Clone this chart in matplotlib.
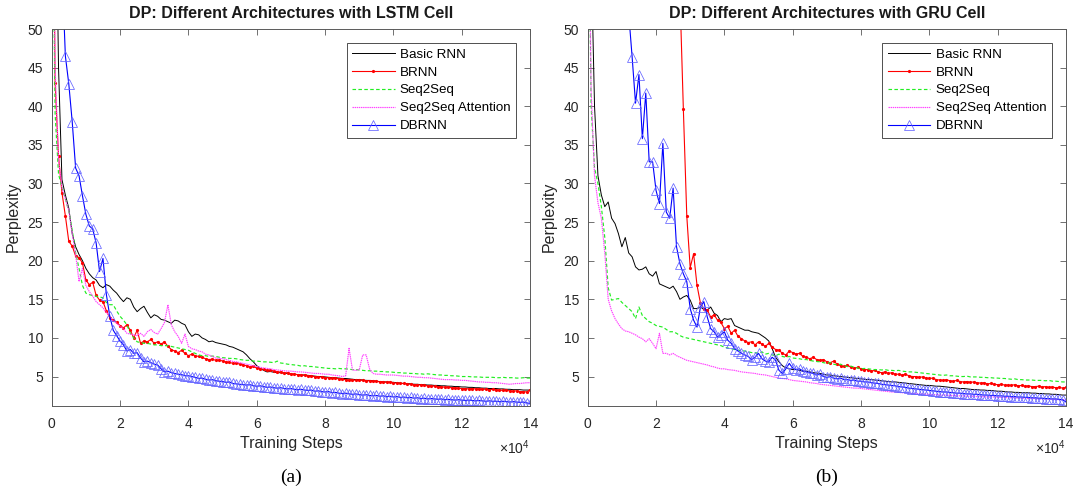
import numpy as np
import matplotlib
matplotlib.use("Agg")
import matplotlib.pyplot as plt

# training steps (x10^4 shown on axis)
steps = np.arange(0, 141) * 1000

# ---------------- (a) LSTM cell ----------------
lstm_basic = [120.0,
              75.0, 45.0, 30.5, 28.5, 26.8, 23.5, 21.8, 20.8, 20.0, 19.0,
              18.3, 17.8, 17.5, 16.8, 16.5, 16.9, 16.7, 16.2, 15.8, 15.2,
              14.7, 15.2, 15.0, 14.0, 13.4, 13.8, 14.1, 13.3, 12.6, 13.0,
              12.8, 12.4, 12.3, 12.1, 11.9, 12.3, 12.2, 11.9, 11.7, 10.8,
              10.2, 10.5, 10.4, 10.0, 9.8, 9.5, 9.6, 9.4, 9.3, 9.2,
              9.1, 8.9, 8.8, 8.6, 8.4, 8.2, 7.8, 7.3, 6.9, 6.4,
              6.05, 5.8, 5.6, 5.65, 5.55, 5.5, 5.5, 5.45, 5.4, 5.3,
              5.3, 5.25, 5.2, 5.2, 5.15, 5.1, 5.05, 5.0, 5.0, 4.95,
              4.9, 4.85, 4.85, 4.8, 4.75, 4.75, 4.7, 4.65, 4.6, 4.6,
              4.55, 4.5, 4.5, 4.45, 4.4, 4.35, 4.3, 4.3, 4.25, 4.25,
              4.2, 4.15, 4.1, 4.1, 4.05, 4.0, 4.0, 3.95, 3.95, 3.9,
              3.9, 3.85, 3.85, 3.8, 3.8, 3.75, 3.75, 3.7, 3.7, 3.65,
              3.65, 3.6, 3.6, 3.55, 3.55, 3.5, 3.5, 3.45, 3.45, 3.45,
              3.4, 3.4, 3.35, 3.35, 3.3, 3.3, 3.3, 3.25, 3.25, 3.25]

lstm_brnn = [90.0,
             43.0, 33.5, 28.8, 25.8, 22.5, 21.9, 20.6, 20.4, 19.7, 17.5,
             16.9, 17.2, 15.5, 14.9, 14.7, 13.5, 12.6, 12.3, 12.0, 11.6,
             11.3, 11.7, 11.0, 10.0, 11.0, 9.3, 9.6, 9.5, 9.8, 9.3,
             9.5, 9.2, 9.5, 8.9, 8.5, 8.3, 8.1, 8.4, 8.0, 7.7,
             7.9, 7.7, 7.6, 7.5, 7.3, 7.2, 7.25, 7.1, 7.15, 7.0,
             6.9, 6.85, 6.7, 6.75, 6.6, 6.5, 6.4, 6.25, 6.3, 6.1,
             6.0, 5.95, 5.8, 5.85, 5.7, 5.6, 5.6, 5.45, 5.5, 5.35,
             5.3, 5.25, 5.15, 5.2, 5.1, 5.05, 5.0, 4.95, 4.95, 4.85,
             4.85, 4.75, 4.8, 4.7, 4.65, 4.6, 4.55, 4.6, 4.5, 4.55,
             4.5, 4.45, 4.45, 4.4, 4.4, 4.3, 4.35, 4.25, 4.3, 4.2,
             4.15, 4.1, 4.1, 4.05, 4.0, 3.95, 3.95, 3.9, 3.85, 3.8,
             3.8, 3.75, 3.7, 3.7, 3.6, 3.6, 3.55, 3.55, 3.5, 3.45,
             3.45, 3.4, 3.45, 3.4, 3.4, 3.35, 3.35, 3.3, 3.35, 3.3,
             3.25, 3.2, 3.2, 3.15, 3.1, 3.15, 3.05, 3.05, 3.0, 3.3]

lstm_s2s = [80.0,
            39.0, 31.2, 29.5, 28.0, 26.4, 24.0, 21.0, 19.0, 16.8, 15.8,
            15.6, 15.5, 15.4, 15.3, 15.2, 14.6, 14.3, 14.3, 13.5, 12.8,
            12.3, 11.7, 10.6, 10.0, 9.5, 9.4, 9.3, 9.3, 9.2, 9.1,
            9.1, 9.0, 9.0, 9.0, 8.9, 8.8, 8.7, 8.6, 8.5, 8.4,
            8.2, 8.0, 7.8, 7.7, 7.7, 7.6, 7.65, 7.6, 7.5, 7.45,
            7.4, 7.35, 7.35, 7.3, 7.2, 7.15, 7.1, 7.1, 7.0, 7.0,
            6.95, 6.9, 6.9, 6.85, 6.8, 7.0, 6.75, 6.7, 6.6, 6.55,
            6.5, 6.45, 6.35, 6.4, 6.3, 6.3, 6.25, 6.2, 6.15, 6.1,
            6.05, 6.05, 6.0, 6.05, 6.0, 6.0, 5.95, 5.9, 5.9, 5.85,
            5.8, 5.75, 5.75, 5.7, 5.7, 5.65, 5.65, 5.6, 5.6, 5.55,
            5.5, 5.5, 5.45, 5.45, 5.4, 5.4, 5.35, 5.35, 5.3, 5.35,
            5.3, 5.25, 5.2, 5.2, 5.15, 5.15, 5.1, 5.1, 5.05, 5.0,
            5.0, 5.0, 4.95, 4.95, 4.95, 4.9, 4.9, 4.9, 4.9, 4.85,
            4.85, 4.9, 4.85, 4.85, 4.85, 4.8, 4.8, 4.85, 4.8, 4.8]

lstm_att = [90.0,
            45.0, 33.0, 29.5, 28.0, 26.5, 23.5, 20.8, 17.3, 19.0, 16.8,
            16.0, 15.4, 14.7, 14.3, 13.9, 13.3, 12.8, 12.2, 11.9, 11.5,
            11.2, 10.6, 10.5, 10.4, 10.3, 10.6, 10.2, 10.8, 11.1, 10.7,
            10.5, 11.2, 12.0, 14.3, 11.7, 10.8, 10.2, 9.3, 10.5, 8.9,
            8.6, 8.5, 8.3, 8.2, 7.9, 7.8, 7.6, 7.4, 7.35, 7.3,
            7.2, 7.1, 6.95, 6.9, 6.8, 6.7, 6.6, 6.5, 6.4, 6.3,
            6.2, 6.1, 6.05, 6.0, 5.9, 5.85, 5.8, 5.75, 5.7, 5.7,
            5.65, 5.6, 5.6, 5.55, 5.5, 5.45, 5.4, 5.4, 5.35, 5.3,
            5.3, 5.2, 5.15, 5.1, 5.0, 5.1, 8.65, 5.85, 5.8, 5.9,
            7.8, 7.8, 6.0, 5.4, 5.3, 5.3, 5.25, 5.2, 5.2, 5.2,
            5.15, 5.1, 5.05, 5.05, 5.0, 4.95, 4.9, 4.9, 4.85, 4.85,
            4.8, 4.75, 4.7, 4.65, 4.6, 4.6, 4.6, 4.55, 4.55, 4.5,
            4.5, 4.45, 4.4, 4.35, 4.3, 4.3, 4.25, 4.25, 4.2, 4.2,
            4.15, 4.1, 4.05, 4.0, 4.05, 4.1, 4.1, 4.15, 4.2, 4.2]

lstm_dbrnn = [200.0,
              150.0, 90.0, 58.0, 46.5, 42.9, 38.0, 32.0, 31.0, 28.4, 26.0,
              24.5, 24.1, 22.3, 18.6, 20.3, 15.6, 12.8, 11.0, 10.3, 9.6,
              9.1, 8.3, 8.5, 8.0, 8.1, 7.4, 6.9, 7.0, 6.8, 6.6,
              6.5, 6.0, 5.6, 5.7, 5.5, 5.4, 5.3, 5.25, 5.1, 5.1,
              5.0, 4.9, 4.75, 4.8, 4.65, 4.55, 4.6, 4.45, 4.4, 4.35,
              4.25, 4.3, 4.1, 4.05, 4.0, 3.95, 3.9, 3.95, 3.8, 3.75,
              3.8, 3.7, 3.6, 3.65, 3.55, 3.5, 3.55, 3.45, 3.4, 3.45,
              3.35, 3.3, 3.35, 3.25, 3.2, 3.25, 3.1, 3.15, 3.05, 3.0,
              3.05, 2.9, 2.95, 2.85, 2.8, 2.85, 2.75, 2.7, 2.75, 2.65,
              2.6, 2.65, 2.55, 2.5, 2.55, 2.45, 2.5, 2.4, 2.45, 2.35,
              2.4, 2.3, 2.35, 2.25, 2.3, 2.2, 2.25, 2.15, 2.2, 2.1,
              2.15, 2.1, 2.05, 2.1, 2.0, 2.05, 2.0, 1.95, 2.0, 1.95,
              1.9, 1.95, 1.9, 1.85, 1.9, 1.85, 1.8, 1.85, 1.8, 1.8,
              1.75, 1.8, 1.75, 1.7, 1.75, 1.7, 1.65, 1.7, 1.6, 1.45]

# ---------------- (b) GRU cell ----------------
gru_basic = [100.0,
             60.0, 40.0, 31.0, 28.5, 27.0, 27.6, 25.5, 24.8, 23.5, 21.8,
             23.0, 21.0, 20.5, 19.2, 18.8, 18.9, 19.2, 18.3, 18.0, 18.6,
             17.0, 16.8, 16.6, 16.4, 16.7, 16.0, 15.0, 15.3, 15.5, 14.9,
             13.8, 13.8, 14.0, 13.7, 13.6, 14.0, 13.2, 12.9, 12.1, 12.5,
             12.4, 12.5, 11.6, 11.4, 11.2, 11.0, 11.0, 10.8, 10.7, 10.6,
             10.3, 10.0, 9.6, 8.6, 7.5, 6.9, 6.4, 6.1, 6.0, 5.9,
             5.9, 5.8, 5.7, 5.7, 5.6, 5.5, 5.45, 5.4, 5.3, 5.2,
             5.2, 5.1, 5.05, 5.0, 4.95, 4.9, 4.85, 4.8, 4.75, 4.7,
             4.65, 4.6, 4.6, 4.55, 4.5, 4.45, 4.4, 4.35, 4.3, 4.3,
             4.25, 4.2, 4.15, 4.1, 4.05, 4.0, 3.95, 3.9, 3.85, 3.85,
             3.8, 3.75, 3.75, 3.7, 3.65, 3.6, 3.55, 3.5, 3.45, 3.45,
             3.4, 3.35, 3.3, 3.3, 3.25, 3.25, 3.2, 3.2, 3.15, 3.1,
             3.1, 3.05, 3.0, 3.0, 2.95, 2.95, 2.9, 2.9, 2.9, 2.85,
             2.85, 2.8, 2.8, 2.75, 2.75, 2.7, 2.7, 2.65, 2.6, 2.6]

gru_brnn = [680.0,
            640.0, 600.0, 560.0, 520.0, 480.0, 440.0, 400.0, 360.0, 330.0, 300.0,
            270.0, 245.0, 220.0, 200.0, 180.0, 160.0, 145.0, 130.0, 115.0, 102.0,
            92.0, 84.0, 76.0, 70.0, 64.0, 59.0, 54.5, 39.6, 25.8, 19.1,
            20.9, 16.8, 14.5, 13.8, 13.6, 12.7, 13.0, 12.3, 12.0, 11.2,
            11.5, 10.6, 11.0, 10.2, 9.9, 9.6, 9.4, 9.5, 9.1, 9.5,
            9.2, 8.9, 9.3, 8.8, 8.5, 8.4, 8.0, 7.8, 8.3, 8.1,
            7.9, 8.0, 7.6, 7.5, 7.3, 7.5, 7.2, 7.1, 7.2, 6.9,
            6.8, 7.0, 6.6, 6.4, 6.3, 6.5, 6.2, 6.1, 6.2, 6.0,
            5.9, 5.9, 5.7, 5.8, 5.6, 5.5, 5.6, 5.4, 5.5, 5.3,
            5.3, 5.2, 5.3, 5.1, 5.0, 5.0, 4.9, 4.95, 4.8, 4.75,
            4.8, 4.6, 4.55, 4.5, 4.6, 4.45, 4.4, 4.5, 4.35, 4.3,
            4.35, 4.25, 4.3, 4.2, 4.15, 4.2, 4.05, 4.1, 4.0, 3.95,
            4.0, 3.9, 3.9, 3.85, 3.95, 3.8, 3.85, 3.75, 3.8, 3.7,
            3.7, 3.75, 3.65, 3.7, 3.6, 3.65, 3.55, 3.6, 3.5, 3.6]

gru_s2s = [80.0,
           40.0, 32.0, 30.0, 27.0, 23.0, 16.5, 14.9, 15.0, 15.1, 14.6,
           14.2, 13.8, 13.4, 12.5, 14.0, 12.9, 12.5, 12.1, 11.9, 11.6,
           11.5, 11.4, 11.1, 10.8, 10.8, 10.6, 10.3, 10.1, 10.0, 9.9,
           9.8, 9.7, 9.6, 9.5, 9.4, 9.3, 9.2, 9.1, 9.0, 8.8,
           8.7, 8.6, 8.5, 8.4, 8.35, 8.3, 8.2, 8.1, 8.1, 8.0,
           8.2, 7.9, 8.0, 7.8, 7.7, 7.9, 7.6, 7.5, 7.6, 7.4,
           7.35, 7.3, 7.2, 7.2, 7.1, 7.0, 6.95, 6.9, 6.8, 6.7,
           6.8, 6.6, 6.5, 6.6, 6.4, 6.3, 6.35, 6.2, 6.1, 6.0,
           6.05, 6.0, 5.95, 5.9, 5.9, 5.85, 5.9, 5.8, 5.8, 5.75,
           5.8, 5.7, 5.65, 5.6, 5.6, 5.55, 5.5, 5.45, 5.4, 5.35,
           5.3, 5.25, 5.2, 5.15, 5.2, 5.1, 5.1, 5.05, 5.0, 5.0,
           5.05, 4.95, 4.95, 4.95, 4.9, 4.9, 4.85, 4.85, 4.8, 4.8,
           4.75, 4.75, 4.7, 4.65, 4.7, 4.6, 4.6, 4.55, 4.55, 4.55,
           4.5, 4.5, 4.5, 4.45, 4.5, 4.4, 4.4, 4.35, 4.3, 4.3]

gru_att = [80.0,
           42.0, 31.0, 27.5, 25.5, 21.0, 15.0, 13.5, 12.5, 11.8, 11.2,
           10.9, 10.8, 10.6, 10.4, 10.1, 9.9, 9.5, 9.9, 9.3, 8.6,
           10.6, 8.0, 8.0, 7.8, 8.0, 7.7, 7.5, 7.3, 7.1, 7.0,
           6.9, 6.8, 6.7, 6.6, 6.5, 6.35, 6.25, 6.1, 6.0, 6.0,
           5.9, 5.85, 5.8, 5.7, 5.6, 5.55, 5.5, 5.45, 5.4, 5.3,
           5.25, 5.2, 5.1, 5.0, 4.9, 4.8, 4.75, 4.7, 4.6, 4.5,
           4.45, 4.4, 4.35, 4.3, 4.2, 4.15, 4.1, 4.0, 3.95, 3.9,
           3.85, 3.8, 3.75, 3.7, 3.65, 3.6, 3.55, 3.5, 3.5, 3.45,
           3.4, 3.35, 3.3, 3.25, 3.2, 3.15, 3.1, 3.05, 3.0, 3.0,
           2.95, 2.9, 2.9, 2.85, 2.8, 2.8, 2.75, 2.75, 2.7, 2.7,
           2.65, 2.65, 2.6, 2.6, 2.6, 2.55, 2.55, 2.5, 2.5, 2.5,
           2.45, 2.45, 2.45, 2.4, 2.4, 2.4, 2.35, 2.35, 2.35, 2.3,
           2.3, 2.3, 2.25, 2.25, 2.25, 2.2, 2.2, 2.2, 2.15, 2.15,
           2.15, 2.1, 2.1, 2.1, 2.05, 2.05, 2.05, 2.0, 2.0, 2.0]

gru_dbrnn = [460.0,
             420.0, 380.0, 340.0, 300.0, 260.0, 220.0, 190.0, 160.0, 130.0, 100.0,
             75.0, 52.0, 46.4, 40.4, 44.1, 35.8, 41.7, 32.8, 32.8, 29.1,
             27.4, 35.2, 26.3, 25.5, 29.4, 21.8, 19.6, 18.3, 17.3, 13.8,
             12.3, 11.4, 14.0, 14.7, 12.7, 11.2, 10.8, 10.1, 10.4, 10.8,
             9.7, 9.3, 8.6, 8.3, 8.0, 7.8, 7.6, 7.2, 7.5, 8.0,
             7.3, 7.0, 6.9, 7.5, 7.1, 5.8, 5.4, 6.0, 6.7, 6.1,
             5.9, 6.0, 5.7, 5.6, 5.5, 5.4, 5.2, 5.3, 5.0, 4.9,
             5.0, 4.8, 4.7, 4.8, 4.6, 4.6, 4.5, 4.55, 4.4, 4.4,
             4.3, 4.3, 4.2, 4.15, 4.1, 4.0, 3.95, 3.9, 3.85, 3.8,
             3.7, 3.65, 3.6, 3.5, 3.45, 3.4, 3.35, 3.3, 3.25, 3.2,
             3.15, 3.1, 3.05, 3.0, 3.0, 2.95, 2.9, 2.85, 2.85, 2.8,
             2.75, 2.75, 2.7, 2.7, 2.65, 2.6, 2.6, 2.55, 2.55, 2.5,
             2.5, 2.45, 2.45, 2.4, 2.4, 2.35, 2.35, 2.3, 2.3, 2.25,
             2.25, 2.2, 2.2, 2.15, 2.15, 2.1, 2.1, 2.05, 2.0, 1.7]

series_names = ["Basic RNN", "BRNN", "Seq2Seq", "Seq2Seq Attention", "DBRNN"]
titles = ["DP: Different Architectures with LSTM Cell",
          "DP: Different Architectures with GRU Cell"]
panel_tags = ["(a)", "(b)"]
xtick_vals = [0, 2, 4, 6, 8, 10, 12, 14]
ytick_vals = [5, 10, 15, 20, 25, 30, 35, 40, 45, 50]

plt.rcParams['font.family'] = ['Liberation Sans', 'DejaVu Sans']
plt.rcParams['mathtext.fontset'] = 'custom'
plt.rcParams['mathtext.rm'] = 'Liberation Sans'

W, H = 1074, 487
fig = plt.figure(figsize=(W / 100, H / 100), dpi=100)


def rect(x0, x1, y0, y1):
    return [x0 / W, 1 - y1 / H, (x1 - x0) / W, (y1 - y0) / H]


ax1 = fig.add_axes(rect(51.7, 530.2, 29, 405.5))
ax2 = fig.add_axes(rect(587.7, 1066.0, 29, 405.5))

data = [
    (ax1, [lstm_basic, lstm_brnn, lstm_s2s, lstm_att, lstm_dbrnn]),
    (ax2, [gru_basic, gru_brnn, gru_s2s, gru_att, gru_dbrnn]),
]

spine_col = '#5a5a5a'
for i, (ax, ser) in enumerate(data):
    basic, brnn, s2s, att, dbrnn = ser
    ax.plot(steps, basic, color='black', lw=0.7, label=series_names[0])
    ax.plot(steps, brnn, color='#ff0000', lw=0.8, marker='o', ms=2.3, mew=0,
            label=series_names[1])
    ax.plot(steps, s2s, color='#22ee22', lw=0.85, ls=(0, (3, 2)), label=series_names[2])
    ax.plot(steps, att, color='#ff44ff', lw=0.85, ls=(0, (1.2, 0.6)), label=series_names[3])
    ax.plot(steps, dbrnn, color='#0000ff', lw=0.8, marker='^', ms=6.5, mfc='none',
            mec='#6666ff', mew=0.55, label=series_names[4])

    ax.set_xlim(0, 140000)
    ax.set_ylim(1.25, 50)
    ax.set_xticks([v * 10000 for v in xtick_vals])
    ax.set_xticklabels([str(v) for v in xtick_vals])
    ax.set_yticks(ytick_vals)
    ax.set_yticklabels([str(v) for v in ytick_vals])
    ax.tick_params(axis='x', pad=8)
    ax.tick_params(axis='y', pad=6)
    ax.tick_params(direction='in', top=True, right=True, length=4, width=0.6,
                   color=spine_col, labelsize=10, labelcolor='#262626')
    for s in ax.spines.values():
        s.set_color(spine_col)
        s.set_linewidth(0.7)

    ax.set_title(titles[i], fontsize=11.5, fontweight='bold', pad=8, color='#1a1a1a')
    ax.set_xlabel('Training Steps', fontsize=11.5, labelpad=4, color='#262626')
    ax.set_ylabel('Perplexity', fontsize=11.5, labelpad=5, color='#262626')
    ax.text(1.0, -0.112, r'$\times\mathregular{10^{4}}$', transform=ax.transAxes,
            ha='right', va='center', fontsize=10, color='#262626')
    ax.text(0.5, -0.19, panel_tags[i], transform=ax.transAxes, ha='center', va='center',
            fontsize=14, family=['Liberation Serif', 'DejaVu Serif'])

    leg = ax.legend(loc='upper right', bbox_to_anchor=(0.970, 0.963), borderaxespad=0,
                    fontsize=9.6, frameon=True, fancybox=False, edgecolor='#333333',
                    framealpha=1, handlelength=3.2, handletextpad=0.4,
                    labelspacing=0.42, borderpad=0.4)
    leg.get_frame().set_linewidth(0.6)

fig.savefig('out.png', dpi=100)
